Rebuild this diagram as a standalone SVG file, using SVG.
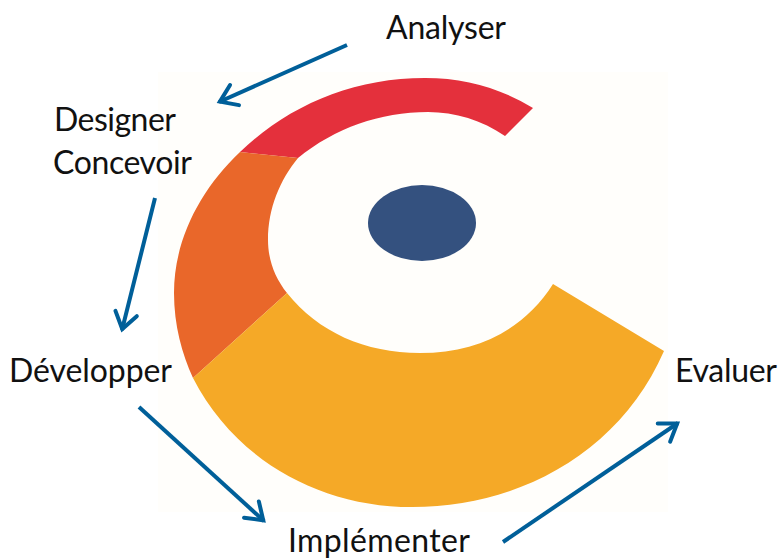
<svg xmlns="http://www.w3.org/2000/svg" width="781" height="558" viewBox="0 0 781 558">
<style>
text{font-family:"Lato","Carlito","Open Sans",sans-serif;font-size:32px;fill:#111}
.c{fill:none;stroke:#005f99;stroke-width:4}
</style>
<defs>
<marker id="a" markerUnits="userSpaceOnUse" markerWidth="32" markerHeight="32" refX="26" refY="16" orient="auto">
<path d="M9 5L25 16L9 27" fill="none" stroke="#005f99" stroke-width="4" stroke-linecap="round" stroke-linejoin="miter"/>
</marker>
</defs>
<rect width="781" height="558" fill="#fff"/>
<rect x="158" y="72" width="510" height="440" fill="#fffefb"/>
<g id="ring">
<path id="red" fill="#e4303c" d="M533 108C500 88 465 78 425 78C352 78 288 106 240 152L298 158C335 128 380 112 428 112C455 112 482 120 505 136Z"/>
<path id="orange" fill="#e9672a" d="M240 152C200 190 174 240 174 293C174 325 182 354 193 378L287 293C275 278 268 260 268 240C268 208 280 180 298 158Z"/>
<path id="yellow" fill="#f5a927" d="M193 378C235 460 320 507 412 507C520 507 620 452 664 351L553 284C525 328 480 353 420 353C365 353 318 332 287 293Z"/>
</g>
<ellipse id="center" cx="422" cy="223" rx="54" ry="38" fill="#34517f"/>
<g id="connectors">
<path class="c" d="M347 45L219 102" marker-end="url(#a)"/>
<path class="c" d="M155 198L122 330" marker-end="url(#a)"/>
<path class="c" d="M139 407L264 521" marker-end="url(#a)"/>
<path class="c" d="M503 542L678 423" marker-end="url(#a)"/>
</g>
<g id="analyser"><text x="386" y="39" textLength="120">Analyser</text></g>
<g id="designer"><text x="54" y="131" textLength="122">Designer</text><text x="53" y="174" textLength="139">Concevoir</text></g>
<g id="developper"><text x="9" y="382" textLength="163">Développer</text></g>
<g id="implementer"><text x="288" y="552" textLength="182">Implémenter</text></g>
<g id="evaluer"><text x="675" y="382" textLength="102">Evaluer</text></g>
</svg>
